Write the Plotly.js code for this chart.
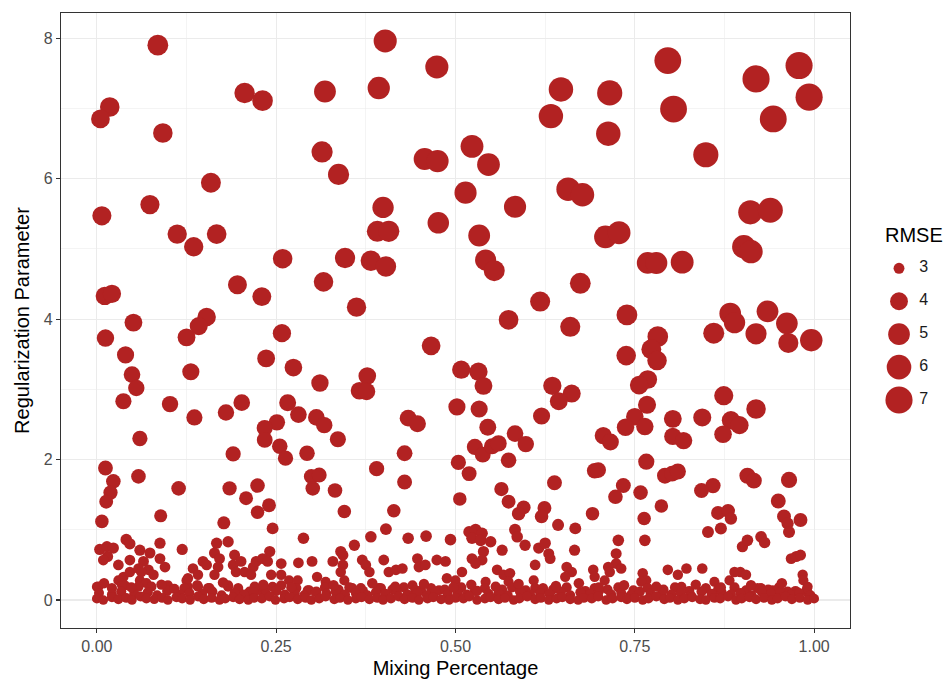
<!DOCTYPE html>
<html>
<head>
<meta charset="utf-8">
<script src="https://cdn.plot.ly/plotly-3.0.1.min.js"></script>
<style>html,body{margin:0;padding:0;background:#fff;}#chart{width:946px;height:680px;}</style>
</head>
<body>
<div id="chart"></div>
<script>
// ---------- DATA ----------
// Upper points (larger regularization)
const upperMix = [
0.085,0.018,0.005,0.092,0.206,0.231,0.318,0.402,0.393,0.474,
0.314,0.337,0.457,0.475,0.514,0.159,0.007,0.074,0.112,0.135,
0.167,0.399,0.391,0.407,0.476,0.259,0.346,0.382,0.403,0.316,
0.011,0.021,0.196,0.230,0.362,0.051,0.153,0.142,0.258,0.796,
0.979,0.919,0.993,0.647,0.715,0.633,0.804,0.943,0.713,0.849,
0.523,0.546,0.657,0.677,0.583,0.911,0.939,0.533,0.709,0.728,
0.902,0.912,0.542,0.554,0.768,0.780,0.816,0.674,0.618,0.574,
0.739,0.883,0.889,0.935,0.962,0.660,0.782,0.860,0.919,0.964,
0.996,0.773,0.781,0.738,0.768,0.756,0.508,0.532,0.539,0.635,
0.662,0.644,0.874,0.919,0.502,0.533,0.620,0.767,0.750,0.764,
0.737,0.803,0.844,0.884,0.896,0.873,0.803,0.818,0.545,0.583,
0.598,0.706,0.716,0.527,0.538,0.551,0.560,0.504,0.519,0.574,
0.766,0.694,0.699,0.792,0.802,0.810,0.907,0.916,0.965,0.638,
0.734,0.723,0.758,0.787,0.859,0.843,0.950,0.506,0.564,0.574,
0.595,0.588,0.624,0.620,0.691,0.763,0.866,0.880,0.958,0.981,
0.012,0.040,0.049,0.055,0.037,0.060,0.125,0.131,0.102,0.136,
0.236,0.274,0.311,0.377,0.366,0.376,0.466,0.202,0.180,0.266,
0.281,0.251,0.234,0.234,0.255,0.263,0.306,0.317,0.336,0.293,
0.190,0.434,0.447,0.429,0.390,0.429,0.414,0.012,0.023,0.019,
0.013,0.058,0.114,0.089,0.007,0.185,0.224,0.240,0.208,0.224,
0.299,0.310,0.301,0.332,0.345,0.177];
const upperReg = [
7.90,7.02,6.85,6.65,7.22,7.11,7.24,7.96,7.29,7.59,
6.38,6.06,6.28,6.25,5.80,5.94,5.47,5.63,5.21,5.03,
5.21,5.59,5.25,5.25,5.37,4.86,4.87,4.83,4.75,4.53,
4.33,4.36,4.49,4.32,4.17,3.95,4.03,3.90,3.80,7.68,
7.61,7.42,7.16,7.27,7.22,6.89,6.99,6.85,6.64,6.34,
6.46,6.20,5.85,5.77,5.60,5.52,5.55,5.19,5.17,5.23,
5.03,4.96,4.84,4.69,4.80,4.80,4.81,4.51,4.25,3.99,
4.06,4.08,3.95,4.11,3.94,3.89,3.75,3.80,3.79,3.66,
3.70,3.57,3.41,3.48,3.14,3.06,3.28,3.25,3.05,3.05,
2.94,2.83,2.91,2.72,2.75,2.72,2.62,2.78,2.61,2.47,
2.46,2.58,2.60,2.56,2.49,2.36,2.33,2.27,2.46,2.37,
2.22,2.34,2.25,2.18,2.07,2.19,2.23,1.96,1.80,1.99,
1.97,1.84,1.85,1.77,1.80,1.83,1.77,1.70,1.71,1.67,
1.63,1.47,1.53,1.34,1.63,1.56,1.41,1.44,1.58,1.40,
1.32,1.23,1.31,1.19,1.23,1.16,1.24,1.27,1.19,1.14,
3.73,3.49,3.21,3.02,2.83,2.30,3.74,3.25,2.79,2.60,
3.44,3.31,3.09,3.19,2.98,2.97,3.62,2.81,2.67,2.81,
2.64,2.53,2.45,2.28,2.19,2.02,2.60,2.49,2.29,2.09,
2.08,2.59,2.51,2.09,1.87,1.68,1.27,1.88,1.69,1.53,
1.40,1.76,1.59,1.20,1.12,1.59,1.63,1.35,1.45,1.25,
1.76,1.78,1.59,1.56,1.26,1.10];
const upperRmse = [
4.75,4.40,4.20,4.40,4.65,4.70,5.05,5.47,5.20,5.47,
4.85,4.85,5.10,5.15,5.15,4.50,4.30,4.30,4.35,4.35,
4.45,4.90,4.80,4.85,4.95,4.40,4.60,4.65,4.65,4.40,
4.10,4.10,4.25,4.25,4.35,4.00,4.15,4.05,4.10,6.87,
7.00,7.00,7.00,5.93,6.20,5.93,6.87,6.90,5.93,6.20,
5.37,5.35,5.60,5.60,5.15,5.82,6.10,5.05,5.30,5.40,
5.60,5.55,4.85,4.80,5.05,5.10,5.37,4.75,4.55,4.45,
4.75,5.00,4.90,5.05,5.00,4.55,4.70,4.80,4.85,4.56,
5.25,4.50,4.40,4.40,4.20,4.15,4.10,4.10,4.00,4.10,
4.05,4.00,4.30,4.40,3.85,3.85,3.85,4.05,3.95,3.90,
3.90,4.00,4.05,4.10,4.05,3.95,3.90,3.90,3.80,3.75,
3.70,3.85,3.80,3.65,3.60,3.65,3.70,3.50,3.45,3.55,
3.66,3.55,3.55,3.60,3.60,3.65,3.65,3.60,3.66,3.45,
3.45,3.40,3.40,3.25,3.50,3.45,3.45,3.25,3.35,3.30,
3.30,3.25,3.30,3.25,3.25,3.25,3.30,3.30,3.30,3.30,
3.90,3.85,3.75,3.70,3.66,3.50,4.00,3.85,3.70,3.65,
4.00,3.95,3.90,3.95,3.90,3.90,4.20,3.75,3.70,3.80,
3.75,3.70,3.65,3.60,3.55,3.50,3.75,3.70,3.65,3.55,
3.50,3.80,3.80,3.60,3.50,3.45,3.25,3.43,3.40,3.35,
3.30,3.40,3.40,3.20,3.25,3.35,3.40,3.30,3.30,3.25,
3.45,3.45,3.40,3.40,3.25,3.20];

// Mid-height points, left half
const midLMix = [
0.245,0.288,0.403,0.382,0.434,0.459,0.493,0.359,0.004,0.014,
0.023,0.041,0.046,0.088,0.119,0.167,0.183,0.241,0.340,0.343,
0.015,0.030,0.060,0.074,0.065,0.088,0.095,0.037,0.046,0.058,
0.072,0.079,0.134,0.148,0.153,0.164,0.171,0.169,0.164,0.192,
0.190,0.194,0.201,0.206,0.218,0.222,0.231,0.238,0.257,0.281,
0.300,0.257,0.268,0.280,0.307,0.319,0.329,0.343,0.340,0.345,
0.370,0.375,0.380,0.400,0.407,0.417,0.426,0.447,0.449,0.458,
0.474,0.486,0.488,0.477,0.000,0.030,0.035,0.060,0.069,0.125,
0.127,0.157,0.183,0.197,0.213,0.227,0.245,0.294,0.306,0.356,
0.368,0.393,0.440,0.444];
const midLReg = [
1.02,0.88,1.01,0.90,0.88,0.91,0.86,0.78,0.72,0.76,
0.74,0.86,0.80,0.81,0.72,0.81,0.83,0.69,0.69,0.64,
0.62,0.50,0.71,0.67,0.55,0.59,0.47,0.33,0.40,0.45,
0.43,0.36,0.45,0.55,0.50,0.67,0.59,0.47,0.36,0.64,
0.50,0.40,0.55,0.40,0.47,0.55,0.59,0.55,0.52,0.53,
0.55,0.36,0.28,0.28,0.33,0.26,0.55,0.50,0.40,0.28,
0.57,0.50,0.40,0.57,0.40,0.43,0.45,0.59,0.47,0.50,
0.57,0.55,0.31,0.14,0.19,0.28,0.21,0.28,0.24,0.28,
0.19,0.17,0.19,0.14,0.12,0.14,0.19,0.14,0.12,0.17,
0.17,0.17,0.21,0.14];
const midLRmse = [
3.08,3.05,3.08,3.05,3.05,3.05,3.05,3.03,3.02,3.02,
3.02,3.05,3.03,3.03,3.02,3.03,3.03,3.02,3.02,3.01,
3.01,2.99,3.02,3.01,3.00,3.00,2.99,2.97,2.98,2.98,
2.98,2.97,2.98,3.00,2.99,3.01,3.00,2.99,2.97,3.01,
2.99,2.98,3.00,2.98,2.99,3.00,3.00,3.00,2.99,2.99,
3.00,2.97,2.96,2.96,2.97,2.96,3.00,2.99,2.98,2.96,
3.00,2.99,2.98,3.00,2.98,2.98,2.98,3.00,2.99,2.99,
3.00,3.00,2.97,2.95,2.95,2.96,2.95,2.96,2.96,2.96,
2.95,2.95,2.95,2.95,2.95,2.95,2.95,2.95,2.95,2.95,
2.95,2.95,2.95,2.95];

// Mid-height points, right half
const midRMix = [
0.643,0.667,0.764,0.727,0.724,0.724,0.519,0.528,0.537,0.523,
0.535,0.549,0.539,0.537,0.523,0.565,0.583,0.586,0.597,0.616,
0.625,0.630,0.632,0.666,0.558,0.567,0.576,0.574,0.611,0.509,
0.528,0.500,0.542,0.609,0.611,0.655,0.662,0.653,0.692,0.694,
0.713,0.715,0.708,0.731,0.761,0.766,0.759,0.796,0.810,0.822,
0.844,0.815,0.852,0.870,0.884,0.861,0.882,0.889,0.897,0.905,
0.900,0.907,0.926,0.931,0.963,0.965,0.968,0.975,0.981,0.984,
0.985,0.991,0.991,0.942,0.926,0.963];
const midRReg = [
1.07,1.02,0.85,0.85,0.66,0.52,0.97,1.00,0.95,0.88,
0.85,0.83,0.69,0.57,0.59,0.71,1.00,0.90,0.78,0.74,
0.81,0.66,0.59,0.71,0.43,0.36,0.38,0.26,0.50,0.40,
0.52,0.28,0.26,0.28,0.17,0.47,0.40,0.33,0.43,0.33,
0.47,0.40,0.28,0.45,0.38,0.28,0.26,0.43,0.36,0.45,
0.45,0.19,0.97,1.02,1.16,0.26,0.28,0.40,0.40,0.36,
0.76,0.85,0.90,0.82,1.09,0.97,0.59,0.62,0.64,0.36,
0.28,0.19,0.10,0.14,0.17,0.12];
const midRRmse = [
3.09,3.08,3.05,3.05,3.01,2.99,3.06,3.08,3.06,3.05,
3.05,3.04,3.02,3.00,3.00,3.02,3.08,3.05,3.03,3.03,
3.04,3.01,3.00,3.02,2.98,2.97,2.98,2.96,2.99,2.98,
2.99,2.96,2.96,2.96,2.95,2.99,2.98,2.97,2.98,2.97,
2.99,2.98,2.96,2.98,2.98,2.96,2.96,2.98,2.97,2.98,
2.98,2.95,3.08,3.09,3.12,2.96,2.96,2.98,2.98,2.97,
3.03,3.05,3.06,3.04,3.11,3.09,3.00,3.01,3.01,2.97,
2.96,2.95,2.94,2.95,2.95,2.95];

// Ridge of points at the top edge of the zero band
const ridgeMix = [
0.002,0.021,0.039,0.058,0.076,0.099,0.122,0.141,0.155,0.183,
0.197,0.220,0.234,0.257,0.127,0.141,0.215,0.243,0.062,0.009,
0.046,0.278,0.296,0.318,0.337,0.352,0.371,0.396,0.412,0.428,
0.452,0.466,0.485,0.508,0.527,0.541,0.565,0.579,0.598,0.622,
0.636,0.655,0.681,0.694,0.712,0.727,0.748,0.768,0.790,0.806,
0.826,0.849,0.866,0.889,0.905,0.921,0.936,0.951,0.974,0.990];
const ridgeReg = [
0.19,0.17,0.21,0.19,0.19,0.21,0.17,0.19,0.17,0.21,
0.17,0.19,0.17,0.21,0.31,0.36,0.36,0.36,0.40,0.57,
0.57,0.17,0.14,0.18,0.15,0.18,0.13,0.17,0.15,0.18,
0.14,0.17,0.15,0.18,0.13,0.17,0.15,0.18,0.14,0.17,
0.15,0.18,0.13,0.17,0.15,0.18,0.14,0.17,0.15,0.18,
0.13,0.17,0.15,0.18,0.14,0.17,0.15,0.18,0.13,0.16];
const ridgeRmse = [
2.96,2.96,2.96,2.96,2.96,2.96,2.96,2.96,2.96,2.96,
2.96,2.96,2.96,2.96,2.97,2.97,2.97,2.97,2.97,2.99,
2.99,2.96,2.95,2.96,2.95,2.96,2.95,2.96,2.95,2.96,
2.95,2.96,2.95,2.96,2.95,2.96,2.95,2.96,2.95,2.96,
2.95,2.96,2.95,2.96,2.95,2.96,2.95,2.96,2.95,2.96,
2.95,2.96,2.95,2.96,2.95,2.96,2.95,2.96,2.95,2.96];

// Points just above the dense zero band
const haloMix = [
0.003,0.021,0.034,0.052,0.071,0.084,0.098,0.116,0.129,0.147,
0.161,0.174,0.192,0.205,0.219,0.236,0.250,0.262,0.276,0.289,
0.305,0.320,0.333,0.346,0.361,0.377,0.389,0.402,0.418,0.433,
0.447,0.460,0.472,0.489,0.503,0.516,0.530,0.546,0.560,0.573,
0.590,0.604,0.618,0.631,0.647,0.660,0.674,0.688,0.700,0.717,
0.731,0.744,0.757,0.772,0.788,0.801,0.814,0.828,0.843,0.857,
0.871,0.884,0.897,0.913,0.927,0.940,0.953,0.967,0.979,0.995,
0.010,0.048,0.090,0.108,0.140,0.176,0.232,0.271,0.330,0.384,
0.416,0.456,0.497,0.522,0.556,0.588,0.640,0.672,0.700,0.735,
0.780,0.835,0.870,0.912,0.955];
const haloReg = [
0.10,0.08,0.12,0.09,0.11,0.07,0.13,0.08,0.10,0.09,
0.12,0.07,0.10,0.08,0.11,0.09,0.13,0.08,0.10,0.07,
0.11,0.09,0.12,0.08,0.10,0.07,0.11,0.09,0.13,0.08,
0.10,0.07,0.12,0.09,0.11,0.08,0.13,0.09,0.10,0.07,
0.12,0.08,0.10,0.09,0.12,0.07,0.11,0.09,0.13,0.08,
0.10,0.07,0.12,0.09,0.11,0.08,0.10,0.07,0.12,0.09,
0.11,0.08,0.10,0.07,0.12,0.09,0.11,0.08,0.10,0.07,
0.24,0.18,0.22,0.16,0.21,0.25,0.22,0.18,0.21,0.24,
0.19,0.23,0.18,0.22,0.19,0.23,0.20,0.24,0.18,0.21,
0.19,0.22,0.18,0.21,0.24];
const haloRmse = [
2.95,2.95,2.96,2.95,2.95,2.94,2.96,2.95,2.95,2.95,
2.96,2.94,2.95,2.95,2.95,2.95,2.96,2.95,2.95,2.94,
2.95,2.95,2.96,2.95,2.95,2.94,2.95,2.95,2.96,2.95,
2.95,2.94,2.96,2.95,2.95,2.95,2.96,2.95,2.95,2.94,
2.96,2.95,2.95,2.95,2.96,2.94,2.95,2.95,2.96,2.95,
2.95,2.94,2.96,2.95,2.95,2.95,2.95,2.94,2.96,2.95,
2.95,2.95,2.95,2.94,2.96,2.95,2.95,2.95,2.95,2.94,
2.97,2.96,2.97,2.96,2.97,2.98,2.97,2.96,2.97,2.98,
2.96,2.97,2.96,2.97,2.96,2.97,2.97,2.98,2.96,2.97,
2.96,2.97,2.96,2.97,2.98];

// Dense band along zero regularization
const bandMix = [
0.000,0.009,0.021,0.030,0.041,0.049,0.061,0.069,0.080,0.091,
0.099,0.111,0.119,0.130,0.141,0.149,0.160,0.171,0.179,0.190,
0.199,0.211,0.219,0.230,0.241,0.249,0.261,0.269,0.280,0.291,
0.299,0.310,0.319,0.331,0.339,0.350,0.361,0.369,0.380,0.391,
0.399,0.410,0.421,0.429,0.440,0.449,0.461,0.469,0.480,0.491,
0.500,0.511,0.519,0.530,0.541,0.549,0.560,0.569,0.581,0.589,
0.600,0.611,0.619,0.630,0.641,0.649,0.660,0.671,0.679,0.690,
0.699,0.710,0.719,0.731,0.739,0.750,0.761,0.769,0.780,0.791,
0.799,0.810,0.819,0.830,0.841,0.849,0.861,0.869,0.880,0.891,
0.899,0.910,0.919,0.930,0.941,0.949,0.960,0.969,0.980,0.991,
1.000];
const bandReg = [
0.02,0.00,0.04,0.01,0.03,0.00,0.05,0.02,0.01,0.03,
0.00,0.04,0.02,0.00,0.05,0.01,0.03,0.00,0.02,0.04,
0.01,0.00,0.03,0.02,0.05,0.00,0.02,0.04,0.01,0.03,
0.00,0.02,0.05,0.01,0.03,0.00,0.02,0.04,0.01,0.03,
0.00,0.02,0.05,0.01,0.03,0.00,0.02,0.04,0.01,0.00,
0.03,0.02,0.05,0.00,0.02,0.04,0.01,0.03,0.00,0.02,
0.05,0.01,0.03,0.00,0.02,0.04,0.01,0.00,0.03,0.02,
0.05,0.00,0.02,0.04,0.01,0.03,0.00,0.02,0.05,0.01,
0.03,0.00,0.02,0.04,0.01,0.00,0.03,0.02,0.05,0.00,
0.02,0.04,0.01,0.03,0.00,0.02,0.05,0.01,0.03,0.00,
0.02];
const bandRmse = [
2.94,2.93,2.95,2.94,2.94,2.93,2.95,2.94,2.93,2.94,
2.93,2.95,2.94,2.93,2.95,2.94,2.94,2.93,2.94,2.95,
2.94,2.93,2.94,2.94,2.95,2.93,2.94,2.95,2.94,2.94,
2.93,2.94,2.95,2.94,2.94,2.93,2.94,2.95,2.94,2.94,
2.93,2.94,2.95,2.94,2.94,2.93,2.94,2.95,2.94,2.93,
2.94,2.94,2.95,2.93,2.94,2.95,2.94,2.94,2.93,2.94,
2.95,2.94,2.94,2.93,2.94,2.95,2.94,2.93,2.94,2.94,
2.95,2.93,2.94,2.95,2.94,2.94,2.93,2.94,2.95,2.94,
2.94,2.93,2.94,2.95,2.94,2.93,2.94,2.94,2.95,2.93,
2.94,2.95,2.94,2.94,2.93,2.94,2.95,2.94,2.94,2.93,
2.94];

// Axis ticks and legend values
const xTickVals = [0, 0.25, 0.5, 0.75, 1];
const xTickText = ['0.00', '0.25', '0.50', '0.75', '1.00'];
const xMinorVals = [0.125, 0.375, 0.625, 0.875];
const yTickVals = [0, 2, 4, 6, 8];
const yTickText = ['0', '2', '4', '6', '8'];
const yMinorVals = [1, 3, 5, 7];
const legendRmse = [3, 4, 5, 6, 7];
const legendText = ['3', '4', '5', '6', '7'];

// ---------- BUILD ----------
const groups = [
  [upperMix, upperReg, upperRmse],
  [midLMix, midLReg, midLRmse],
  [midRMix, midRReg, midRRmse],
  [ridgeMix, ridgeReg, ridgeRmse],
  [haloMix, haloReg, haloRmse],
  [bandMix, bandReg, bandRmse]
];
groups.forEach((g, i) => {
  if (g[0].length !== g[1].length || g[0].length !== g[2].length) {
    throw new Error('length mismatch in group ' + i + ': ' + g[0].length + ',' + g[1].length + ',' + g[2].length);
  }
});
const mixAll = [].concat(...groups.map(g => g[0]));
const regAll = [].concat(...groups.map(g => g[1]));
const rmseAll = [].concat(...groups.map(g => g[2]));

// ggplot-like area scaling of point size (diameter in px)
function sizeOf(r) { return 7.9 + 9.5 * Math.sqrt(Math.max(r - 2.9, 0)); }

const RED = '#B22222';
const FONT = '"Liberation Sans", Arial, Helvetica, sans-serif';

const traces = [
  {
    type: 'scatter', mode: 'markers',
    x: mixAll, y: regAll,
    marker: { color: RED, opacity: 1, size: rmseAll.map(sizeOf), line: { width: 0 } },
    hoverinfo: 'skip', showlegend: false
  },
  {
    type: 'scatter', mode: 'markers',
    x: legendRmse.map(() => 0), y: legendRmse,
    xaxis: 'x2', yaxis: 'y2', cliponaxis: false,
    marker: { color: RED, opacity: 1, size: legendRmse.map(sizeOf), line: { width: 0 } },
    hoverinfo: 'skip', showlegend: false
  },
  {
    type: 'scatter', mode: 'text',
    x: legendRmse.map(() => 0.28), y: legendRmse,
    xaxis: 'x2', yaxis: 'y2', cliponaxis: false,
    text: legendText, textposition: 'middle center',
    textfont: { family: FONT, size: 16, color: '#1A1A1A' },
    hoverinfo: 'skip', showlegend: false
  }
];

const W = 946, H = 680, ML = 61, MT = 13, MB = 52;
const plotW = W - ML;            // margin r = 0
const plotH = H - MT - MB;
const panelRight = 850;
const xDomEnd = (panelRight - ML) / plotW;
const py = p => (H - MB - p) / plotH;   // pixel row -> paper y
const px = p => (p - ML) / plotW;       // pixel col -> paper x

const axisCommon = {
  ticks: 'outside', ticklen: 4, tickwidth: 1.1, tickcolor: '#333333',
  tickfont: { family: FONT, size: 16, color: '#4D4D4D' },
  showgrid: true, gridcolor: '#EBEBEB', gridwidth: 1.1,
  zeroline: false, showline: true, linecolor: '#333333', linewidth: 1.1, mirror: true,
  automargin: false, fixedrange: true
};

const layout = {
  width: W, height: H,
  margin: { l: ML, r: 0, t: MT, b: MB, pad: 0 },
  paper_bgcolor: '#FFFFFF', plot_bgcolor: '#FFFFFF',
  font: { family: FONT, color: '#000000' },
  showlegend: false,
  xaxis: Object.assign({}, axisCommon, {
    domain: [0, xDomEnd], range: [-0.05, 1.05],
    tickmode: 'array', tickvals: xTickVals, ticktext: xTickText,
    minor: { tickvals: xMinorVals, showgrid: true, gridcolor: '#EBEBEB', gridwidth: 0.55, ticks: '' },
    title: { text: 'Mixing Percentage', font: { family: FONT, size: 20, color: '#000000' }, standoff: 6 }
  }),
  yaxis: Object.assign({}, axisCommon, {
    domain: [0, 1], range: [-0.398, 8.358],
    tickmode: 'array', tickvals: yTickVals, ticktext: yTickText,
    minor: { tickvals: yMinorVals, showgrid: true, gridcolor: '#EBEBEB', gridwidth: 0.55, ticks: '' },
    title: { text: 'Regularization Parameter', font: { family: FONT, size: 20, color: '#000000' }, standoff: 8 }
  }),
  xaxis2: { domain: [0.9, 1.0], range: [-0.469, 0.531], visible: false, anchor: 'y2', fixedrange: true },
  yaxis2: { domain: [py(400), py(268.3)], range: [7, 3], visible: false, anchor: 'x2', fixedrange: true },
  annotations: [{
    xref: 'paper', yref: 'paper', x: px(883), y: py(235),
    xanchor: 'left', yanchor: 'middle', showarrow: false,
    text: 'RMSE', font: { family: FONT, size: 20, color: '#000000' }
  }]
};

Plotly.newPlot('chart', traces, layout, { displayModeBar: false, staticPlot: true });
</script>
</body>
</html>
